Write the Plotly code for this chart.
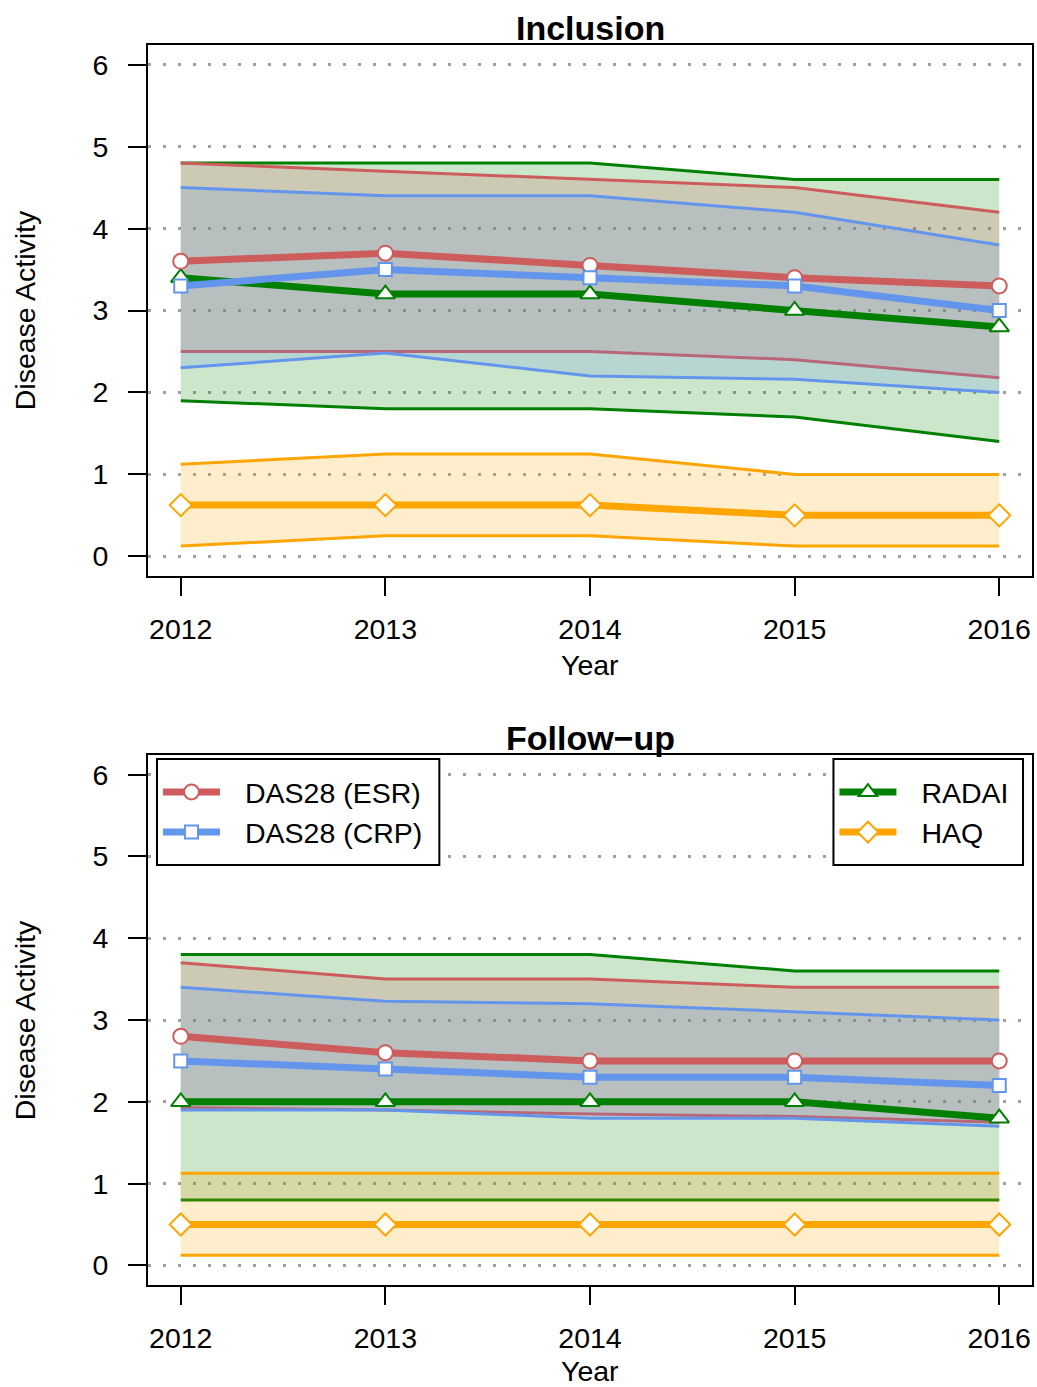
import plotly.graph_objects as go

# ---------------- data ----------------
years = [2012, 2013, 2014, 2015, 2016]
year_labels = ["2012", "2013", "2014", "2015", "2016"]
y_ticks = [0, 1, 2, 3, 4, 5, 6]

series_names = ["DAS28 (ESR)", "DAS28 (CRP)", "RADAI", "HAQ"]

# Inclusion
inc_esr_med = [3.6, 3.7, 3.55, 3.4, 3.3]
inc_esr_lo = [2.5, 2.5, 2.5, 2.4, 2.18]
inc_esr_hi = [4.8, 4.7, 4.6, 4.5, 4.2]
inc_crp_med = [3.3, 3.5, 3.4, 3.3, 3.0]
inc_crp_lo = [2.3, 2.48, 2.2, 2.16, 2.0]
inc_crp_hi = [4.5, 4.4, 4.4, 4.2, 3.8]
inc_radai_med = [3.4, 3.2, 3.2, 3.0, 2.8]
inc_radai_lo = [1.9, 1.8, 1.8, 1.7, 1.4]
inc_radai_hi = [4.8, 4.8, 4.8, 4.6, 4.6]
inc_haq_med = [0.625, 0.625, 0.625, 0.5, 0.5]
inc_haq_lo = [0.125, 0.25, 0.25, 0.125, 0.125]
inc_haq_hi = [1.125, 1.25, 1.25, 1.0, 1.0]

# Follow-up
fu_esr_med = [2.8, 2.6, 2.5, 2.5, 2.5]
fu_esr_lo = [1.93, 1.9, 1.85, 1.82, 1.75]
fu_esr_hi = [3.7, 3.5, 3.5, 3.4, 3.4]
fu_crp_med = [2.5, 2.4, 2.3, 2.3, 2.2]
fu_crp_lo = [1.9, 1.9, 1.8, 1.8, 1.7]
fu_crp_hi = [3.4, 3.23, 3.2, 3.1, 3.0]
fu_radai_med = [2.0, 2.0, 2.0, 2.0, 1.8]
fu_radai_lo = [0.8, 0.8, 0.8, 0.8, 0.8]
fu_radai_hi = [3.8, 3.8, 3.8, 3.6, 3.6]
fu_haq_med = [0.5, 0.5, 0.5, 0.5, 0.5]
fu_haq_lo = [0.125, 0.125, 0.125, 0.125, 0.125]
fu_haq_hi = [1.125, 1.125, 1.125, 1.125, 1.125]

# ---------------- styles ----------------
FONT = "Liberation Sans, Arial, Helvetica, sans-serif"
FS = 28.5
colors = {"DAS28 (ESR)": (205, 92, 92), "DAS28 (CRP)": (100, 149, 237),
          "RADAI": (0, 128, 0), "HAQ": (255, 165, 0)}
symbols = {"DAS28 (ESR)": "circle", "DAS28 (CRP)": "square",
           "RADAI": "triangle-up", "HAQ": "diamond"}
msizes = {"DAS28 (ESR)": 15, "DAS28 (CRP)": 13, "RADAI": 17, "HAQ": 17}
legend_of = {"DAS28 (ESR)": "legend", "DAS28 (CRP)": "legend",
             "RADAI": "legend2", "HAQ": "legend2"}
LEG_PAD = "\u2002\u2009"  # gap between legend symbol and text

panels = [
    ("x", "y", {"DAS28 (ESR)": (inc_esr_med, inc_esr_lo, inc_esr_hi),
                "DAS28 (CRP)": (inc_crp_med, inc_crp_lo, inc_crp_hi),
                "RADAI": (inc_radai_med, inc_radai_lo, inc_radai_hi),
                "HAQ": (inc_haq_med, inc_haq_lo, inc_haq_hi)}, False),
    ("x2", "y2", {"DAS28 (ESR)": (fu_esr_med, fu_esr_lo, fu_esr_hi),
                  "DAS28 (CRP)": (fu_crp_med, fu_crp_lo, fu_crp_hi),
                  "RADAI": (fu_radai_med, fu_radai_lo, fu_radai_hi),
                  "HAQ": (fu_haq_med, fu_haq_lo, fu_haq_hi)}, True),
]

draw_order = ["RADAI", "DAS28 (ESR)", "DAS28 (CRP)", "HAQ"]

fig = go.Figure()

for xa, ya, data, show_leg in panels:
    # bands: polygon + bound lines
    for name in draw_order:
        med, lo, hi = data[name]
        r, g, b = colors[name]
        fig.add_trace(go.Scatter(
            x=years + years[::-1], y=hi + lo[::-1], xaxis=xa, yaxis=ya,
            fill="toself", fillcolor=f"rgba({r},{g},{b},0.2)",
            mode="lines", line=dict(width=0), showlegend=False, hoverinfo="skip"))
        for bound in (lo, hi):
            fig.add_trace(go.Scatter(
                x=years, y=bound, xaxis=xa, yaxis=ya, mode="lines",
                line=dict(color=f"rgb({r},{g},{b})", width=3),
                showlegend=False))
    # medians
    for name in draw_order:
        med, lo, hi = data[name]
        r, g, b = colors[name]
        fig.add_trace(go.Scatter(
            x=years, y=med, xaxis=xa, yaxis=ya, mode="lines+markers",
            name=LEG_PAD + name, legend=legend_of[name], showlegend=show_leg,
            line=dict(color=f"rgb({r},{g},{b})", width=7),
            marker=dict(symbol=symbols[name], size=msizes[name], color="white",
                        line=dict(color=f"rgb({r},{g},{b})", width=2))))

# ---------------- layout ----------------
W, H = 1037, 1387
ML, MR, MT, MB = 148, 3, 45, 102
PH = H - MT - MB
PW = W - ML - MR


def py(p):
    return (H - MB - p) / PH


def px(p):
    return (p - ML) / PW


axis_common = dict(showline=True, mirror=True, linecolor="black", linewidth=2,
                   ticks="outside", ticklen=18, tickwidth=2, tickcolor="black",
                   zeroline=False,
                   tickfont=dict(family=FONT, size=FS, color="black"))

xrange = [2011.84, 2016.16]
yrange = [-0.24, 6.24]

layout = dict(
    width=W, height=H, margin=dict(l=ML, r=MR, t=MT, b=MB),
    paper_bgcolor="white", plot_bgcolor="white",
    font=dict(family=FONT, size=FS, color="black"),
    xaxis=dict(domain=[0, 1], anchor="y", range=xrange, tickvals=years,
               ticktext=year_labels, showgrid=False, ticklabelstandoff=9,
               **axis_common),
    yaxis=dict(domain=[py(576), 1], anchor="x", range=yrange, tickvals=y_ticks,
               showgrid=True, gridcolor="#A0A0A0", gridwidth=2.5,
               griddash="2.5px,12.5px", ticklabelstandoff=14, **axis_common),
    xaxis2=dict(domain=[0, 1], anchor="y2", range=xrange, tickvals=years,
                ticktext=year_labels, showgrid=False, ticklabelstandoff=9,
                **axis_common),
    yaxis2=dict(domain=[0, py(755)], anchor="x2", range=yrange, tickvals=y_ticks,
                showgrid=True, gridcolor="#A0A0A0", gridwidth=2.5,
                griddash="2.5px,12.5px", ticklabelstandoff=14, **axis_common),
    legend=dict(x=px(158), y=py(767), xanchor="left", yanchor="top",
                bgcolor="rgba(0,0,0,0)", borderwidth=0, itemwidth=57,
                font=dict(family=FONT, size=FS, color="black"), traceorder="normal"),
    legend2=dict(x=px(836), y=py(767), xanchor="left", yanchor="top",
                 bgcolor="rgba(0,0,0,0)", borderwidth=0, itemwidth=57,
                 font=dict(family=FONT, size=FS, color="black"), traceorder="normal"),
    shapes=[
        dict(type="rect", xref="paper", yref="paper", x0=px(157), x1=px(440),
             y0=py(865), y1=py(759), fillcolor="white",
             line=dict(color="black", width=2), layer="above"),
        dict(type="rect", xref="paper", yref="paper", x0=px(835), x1=px(1025),
             y0=py(865), y1=py(759), fillcolor="white",
             line=dict(color="black", width=2), layer="above"),
    ],
    annotations=[
        dict(text="<b>Inclusion</b>", x=0.5, y=py(28), xref="paper", yref="paper",
             showarrow=False, font=dict(family=FONT, size=34, color="black"),
             xanchor="center", yanchor="middle"),
        dict(text="<b>Follow\u2212up</b>", x=0.5, y=py(738), xref="paper", yref="paper",
             showarrow=False, font=dict(family=FONT, size=34, color="black"),
             xanchor="center", yanchor="middle"),
        dict(text="Year", x=0.5, y=py(665), xref="paper", yref="paper",
             showarrow=False, font=dict(family=FONT, size=FS, color="black"),
             xanchor="center", yanchor="middle", borderpad=0),
        dict(text="Year", x=0.5, y=py(1371), xref="paper", yref="paper",
             showarrow=False, font=dict(family=FONT, size=FS, color="black"),
             xanchor="center", yanchor="middle", borderpad=0),
        dict(text="Disease Activity", x=px(25), y=py(310), xref="paper", yref="paper",
             showarrow=False, textangle=-90, font=dict(family=FONT, size=FS, color="black"),
             xanchor="center", yanchor="middle"),
        dict(text="Disease Activity", x=px(25), y=py(1020), xref="paper", yref="paper",
             showarrow=False, textangle=-90, font=dict(family=FONT, size=FS, color="black"),
             xanchor="center", yanchor="middle"),
    ],
)

fig.update_layout(**layout)
fig.write_html("out.html")
